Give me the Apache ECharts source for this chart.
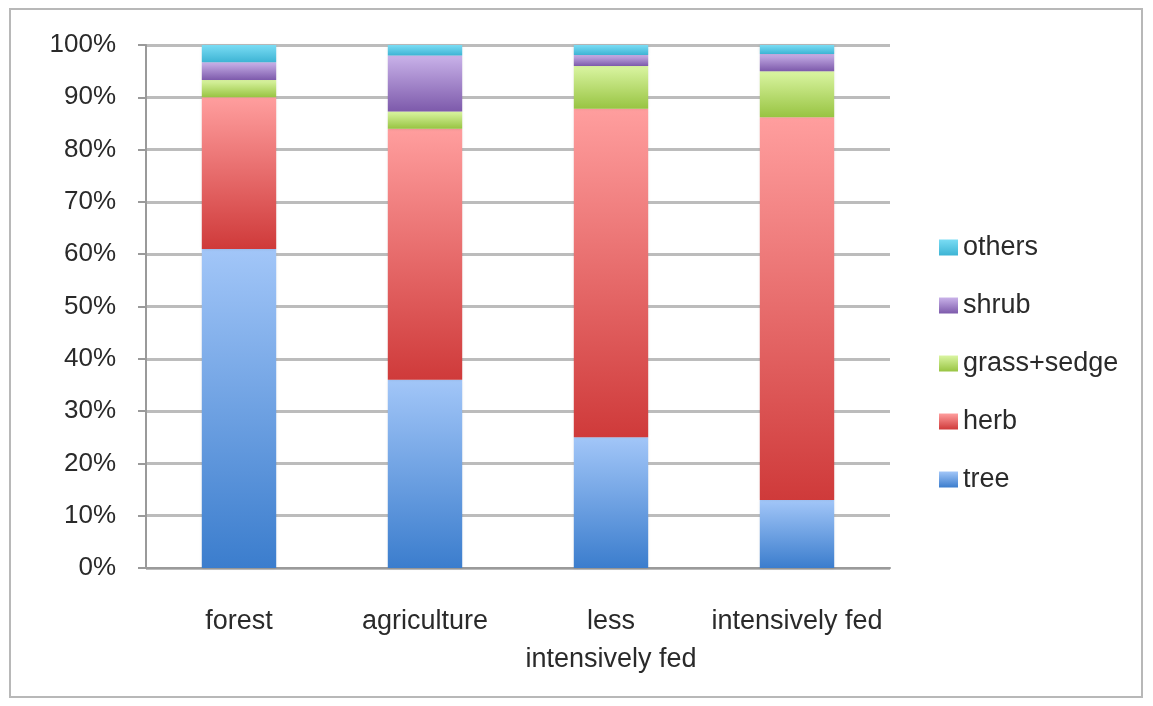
<!DOCTYPE html>
<html>
<head>
<meta charset="utf-8">
<script src="https://cdn.jsdelivr.net/npm/echarts@6/dist/echarts.min.js"></script>
<style>
  html, body { margin: 0; padding: 0; background: #fff; }
  #chart { width: 1153px; height: 706px; }
</style>
</head>
<body>
<div id="chart"></div>
<script>
// categories and percentage shares
const categories = ['forest', 'agriculture', 'less\nintensively fed', 'intensively fed'];
const tree = [61, 36, 25, 13];
const herb = [29, 48, 62.8, 73.2];
const grassSedge = [3.3, 3.3, 8.2, 8.8];
const shrub = [3.4, 10.7, 2.1, 3.3];
const others = [3.3, 2, 1.9, 1.7];
const yTicks = [0, 10, 20, 30, 40, 50, 60, 70, 80, 90, 100];

const chart = echarts.init(document.getElementById('chart'));

// vertical gradient per bar segment (light on top, darker at bottom)
const grad = (top, bottom) => ({
  type: 'linear',
  x: 0, y: 0, x2: 0, y2: 1,
  colorStops: [
    { offset: 0, color: top },
    { offset: 1, color: bottom }
  ]
});

const mkSeries = (name, data, top, bottom) => ({
  name,
  type: 'bar',
  stack: 'total',
  barWidth: '40%',
  data,
  itemStyle: {
    color: grad(top, bottom),
    shadowColor: 'rgba(0,0,0,0.12)',
    shadowBlur: 3
  }
});

const option = {
  backgroundColor: '#fff',
  animation: false,
  graphic: [{
    type: 'rect',
    shape: { x: 10, y: 9, width: 1132, height: 688 },
    style: { fill: 'none', stroke: '#b8b8b8', lineWidth: 2 },
    silent: true
  }],
  grid: { left: 146, right: 263, top: 45, bottom: 138 },
  legend: {
    orient: 'vertical',
    left: 934,
    top: 229,
    itemWidth: 19,
    itemHeight: 16,
    itemGap: 31,
    icon: 'rect',
    data: ['others', 'shrub', 'grass+sedge', 'herb', 'tree'],
    textStyle: {
      fontFamily: 'Liberation Sans',
      fontSize: 27,
      lineHeight: 26,
      color: '#2a2a2a'
    }
  },
  xAxis: {
    type: 'category',
    data: categories,
    axisLine: { lineStyle: { color: '#9a9a9a', width: 2 } },
    axisTick: { length: 10, lineStyle: { color: '#9a9a9a', width: 2 } },
    axisLabel: {
      interval: 0,
      margin: 35,
      fontFamily: 'Liberation Sans',
      fontSize: 27,
      lineHeight: 38,
      color: '#2a2a2a'
    }
  },
  yAxis: {
    type: 'value',
    min: 0,
    max: 100,
    interval: 10,
    axisLine: { show: true, lineStyle: { color: '#9a9a9a', width: 2 } },
    axisTick: { show: true, length: 8, lineStyle: { color: '#9a9a9a', width: 2 } },
    splitLine: { lineStyle: { color: '#bcbcbc', width: 3 } },
    axisLabel: {
      margin: 30,
      fontFamily: 'Liberation Sans',
      fontSize: 26,
      color: '#2a2a2a',
      formatter: v => (yTicks.includes(v) ? v + '%' : '')
    }
  },
  series: [
    mkSeries('tree', tree, '#a2c6f8', '#3b7dcd'),
    mkSeries('herb', herb, '#ff9e9e', '#cf3a3a'),
    mkSeries('grass+sedge', grassSedge, '#daf5a2', '#98c442'),
    mkSeries('shrub', shrub, '#c9b2e9', '#7d5aab'),
    mkSeries('others', others, '#7adcf4', '#3db4d4')
  ]
};

chart.setOption(option);
</script>
</body>
</html>
